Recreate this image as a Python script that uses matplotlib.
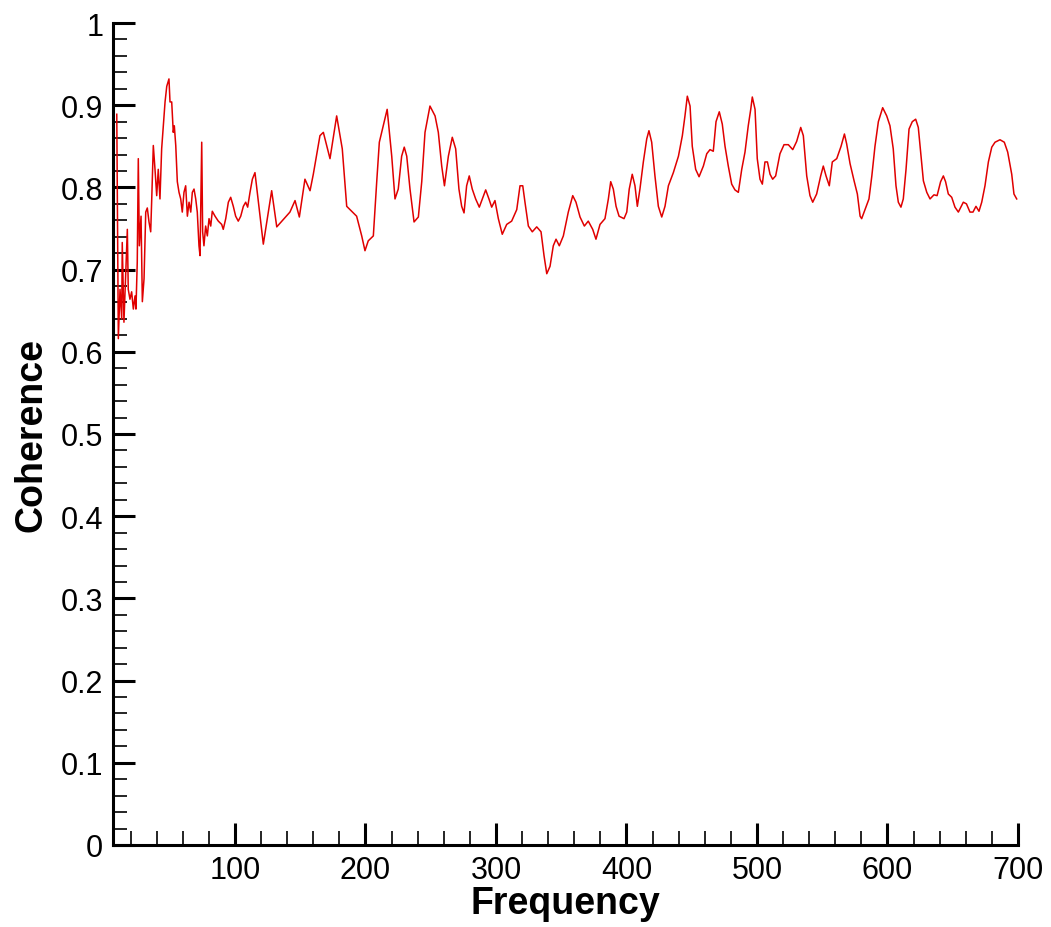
import matplotlib
matplotlib.use("Agg")
import matplotlib.pyplot as plt
from matplotlib.ticker import MultipleLocator

# Coherence spectrum
frequency = [
    9.4, 10.6, 11.9, 13.2, 13.6, 14.9, 16.2, 17.5, 18.2, 19.5, 20.8, 22.1, 23.4, 24.1,
    25.1, 25.9, 26.7, 28.0, 29.0, 30.3, 31.6, 32.8, 34.1, 35.4, 36.2, 37.4, 38.7, 40.0,
    41.2, 42.5, 43.8, 45.1, 46.4, 47.7, 49.4, 50.2, 51.5, 52.7, 53.5, 54.6, 55.8, 57.1,
    58.4, 59.6, 60.9, 62.2, 63.5, 64.8, 66.1, 67.3, 68.6, 69.9, 71.1, 72.4, 73.2, 74.5,
    75.2, 76.2, 77.5, 78.8, 80.1, 81.4, 82.6, 84.7, 87.2, 89.8, 91.0, 92.9, 94.9, 96.7,
    98.7, 100.5, 102.5, 104.4, 106.4, 108.2, 109.7, 111.5, 113.3, 115.3, 121.7, 128.1,
    132.0, 142.1, 146.0, 149.3, 153.6, 157.5, 160.0, 165.1, 167.7, 172.8, 177.9, 182.2,
    185.6, 193.2, 197.1, 199.6, 202.1, 206.0, 208.6, 210.6, 213.6, 216.6, 220.1, 222.6,
    225.1, 227.7, 229.7, 231.6, 234.1, 237.2, 240.5, 243.1, 245.6, 249.4, 253.3, 255.8,
    258.4, 260.5, 263.5, 266.5, 269.1, 271.6, 273.7, 275.5, 277.5, 279.5, 281.8, 284.4,
    287.2, 289.5, 292.1, 294.6, 296.7, 299.2, 301.8, 304.8, 308.2, 312.0, 315.9, 318.4,
    320.5, 322.2, 324.8, 327.8, 331.2, 334.5, 336.8, 338.9, 341.4, 343.9, 346.0, 348.5,
    351.6, 355.4, 358.8, 361.3, 364.4, 367.7, 370.7, 374.1, 376.6, 379.7, 383.5, 386.1,
    387.9, 389.9, 392.0, 394.3, 398.1, 400.2, 402.1, 404.4, 406.5, 408.3, 410.3, 412.9,
    415.5, 417.2, 419.3, 421.8, 424.4, 427.0, 429.5, 432.1, 435.9, 439.8, 442.8, 444.8,
    446.6, 448.7, 450.4, 453.0, 455.6, 458.9, 461.5, 464.0, 466.5, 468.6, 471.1, 473.4,
    475.5, 478.0, 480.6, 483.1, 485.7, 488.3, 490.8, 493.3, 495.2, 496.4, 498.5, 500.2,
    502.3, 504.1, 506.1, 508.0, 510.0, 512.0, 514.3, 517.6, 520.7, 524.0, 527.4, 530.4,
    533.5, 535.5, 538.1, 540.6, 542.7, 545.7, 548.8, 550.8, 552.9, 555.4, 557.7, 561.1,
    564.4, 567.0, 568.7, 571.3, 574.4, 576.9, 579.0, 580.2, 582.8, 585.8, 588.0, 590.4,
    593.0, 596.3, 599.4, 601.9, 604.4, 606.5, 608.3, 610.3, 612.1, 614.2, 616.5, 619.0,
    621.6, 623.6, 625.7, 627.5, 630.1, 632.6, 635.6, 638.0, 640.7, 642.8, 644.5, 646.6,
    649.2, 651.7, 654.3, 658.1, 660.5, 663.2, 665.5, 667.8, 670.1, 672.2, 674.7, 677.3,
    679.9, 682.4, 686.2, 689.5, 692.1, 695.2, 696.9, 699.0,
]
coherence = [
    0.889, 0.616, 0.676, 0.640, 0.733, 0.636, 0.692, 0.749, 0.676, 0.664, 0.673, 0.652, 0.668, 0.652,
    0.709, 0.835, 0.729, 0.765, 0.661, 0.689, 0.770, 0.775, 0.758, 0.746, 0.786, 0.851, 0.822, 0.790,
    0.822, 0.786, 0.847, 0.875, 0.904, 0.923, 0.932, 0.904, 0.904, 0.867, 0.875, 0.851, 0.807, 0.794,
    0.786, 0.770, 0.794, 0.802, 0.765, 0.782, 0.770, 0.794, 0.798, 0.786, 0.770, 0.729, 0.717, 0.855,
    0.746, 0.729, 0.753, 0.741, 0.762, 0.753, 0.771, 0.765, 0.759, 0.755, 0.749, 0.762, 0.782, 0.788,
    0.777, 0.765, 0.759, 0.765, 0.777, 0.782, 0.776, 0.794, 0.810, 0.818, 0.731, 0.796,
    0.752, 0.770, 0.784, 0.764, 0.810, 0.796, 0.816, 0.863, 0.867, 0.835, 0.887, 0.847,
    0.777, 0.765, 0.741, 0.723, 0.735, 0.741, 0.807, 0.855, 0.875, 0.895, 0.838, 0.786,
    0.798, 0.838, 0.849, 0.838, 0.798, 0.758, 0.764, 0.807, 0.867, 0.899, 0.887, 0.867,
    0.826, 0.802, 0.838, 0.861, 0.847, 0.798, 0.777, 0.769, 0.802, 0.814, 0.798, 0.786,
    0.776, 0.786, 0.797, 0.786, 0.776, 0.784, 0.762, 0.743, 0.755, 0.759, 0.773, 0.802,
    0.802, 0.782, 0.753, 0.746, 0.752, 0.746, 0.717, 0.695, 0.704, 0.729, 0.737, 0.729,
    0.741, 0.770, 0.790, 0.782, 0.764, 0.753, 0.759, 0.749, 0.737, 0.755, 0.762, 0.786,
    0.807, 0.798, 0.777, 0.765, 0.762, 0.770, 0.798, 0.816, 0.802, 0.777, 0.798, 0.831,
    0.859, 0.869, 0.855, 0.814, 0.777, 0.764, 0.777, 0.802, 0.818, 0.838, 0.863, 0.887,
    0.911, 0.899, 0.850, 0.822, 0.813, 0.826, 0.841, 0.846, 0.844, 0.880, 0.892, 0.877,
    0.850, 0.826, 0.804, 0.797, 0.794, 0.822, 0.843, 0.875, 0.895, 0.910, 0.895, 0.835,
    0.810, 0.804, 0.831, 0.831, 0.816, 0.810, 0.814, 0.841, 0.852, 0.852, 0.846, 0.856,
    0.873, 0.863, 0.814, 0.790, 0.782, 0.792, 0.814, 0.826, 0.814, 0.802, 0.831, 0.835,
    0.850, 0.865, 0.853, 0.829, 0.808, 0.792, 0.765, 0.762, 0.773, 0.786, 0.814, 0.850,
    0.880, 0.897, 0.887, 0.875, 0.847, 0.802, 0.782, 0.776, 0.786, 0.822, 0.871, 0.880,
    0.883, 0.873, 0.838, 0.808, 0.794, 0.786, 0.791, 0.790, 0.807, 0.814, 0.807, 0.792,
    0.788, 0.776, 0.770, 0.782, 0.780, 0.770, 0.770, 0.777, 0.771, 0.782, 0.802, 0.831,
    0.849, 0.855, 0.858, 0.855, 0.843, 0.816, 0.792, 0.786,
]

x_ticks = [100, 200, 300, 400, 500, 600, 700]
y_ticks = [0, 0.1, 0.2, 0.3, 0.4, 0.5, 0.6, 0.7, 0.8, 0.9, 1]
y_tick_labels = ["0", "0.1", "0.2", "0.3", "0.4", "0.5", "0.6", "0.7", "0.8", "0.9", "1"]

plt.rcParams['font.family'] = ['Liberation Sans', 'DejaVu Sans']

fig = plt.figure(figsize=(10.51, 9.28), dpi=100)
ax = fig.add_axes([0.1075, 0.0884, 0.8611, 0.8857])

ax.plot(frequency, coherence, color='#e00000', linewidth=1.1)

ax.set_xlim(6.5, 700)
ax.set_ylim(0, 1)
ax.set_xticks(x_ticks)
ax.set_yticks(y_ticks)
ax.set_yticklabels(y_tick_labels)
ax.xaxis.set_minor_locator(MultipleLocator(20))
ax.yaxis.set_minor_locator(MultipleLocator(0.02))

for side in ['top', 'right']:
    ax.spines[side].set_visible(False)
for side in ['left', 'bottom']:
    ax.spines[side].set_linewidth(2.2)

ax.tick_params(which='major', direction='in', length=16, width=2.2, labelsize=22, pad=7)
ax.tick_params(which='minor', direction='in', length=10, width=1.2)

ax.set_xlabel('Frequency', fontsize=27, fontweight='bold', labelpad=0)
ax.set_ylabel('Coherence', fontsize=27, fontweight='bold', labelpad=8)

fig.savefig('out.png', dpi=100)
